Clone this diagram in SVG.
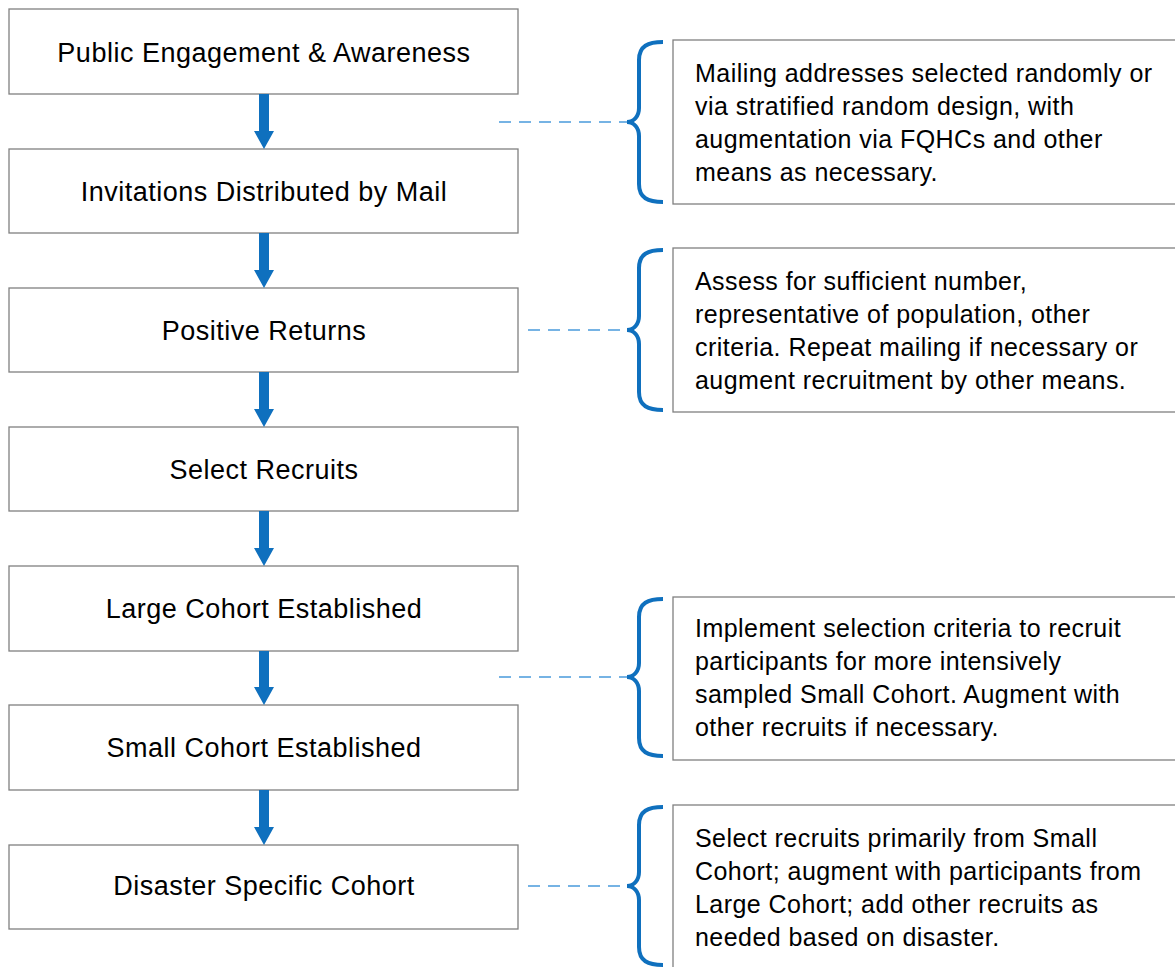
<svg xmlns="http://www.w3.org/2000/svg" width="1175" height="967" viewBox="0 0 1175 967">
<style>
.box{fill:#fff;stroke:#808080;stroke-width:1.3}
.lt{font-family:"Liberation Sans",Arial,sans-serif;font-size:27px;letter-spacing:0.5px;fill:#000;text-anchor:middle}
.rt{font-family:"Liberation Sans",Arial,sans-serif;font-size:25px;letter-spacing:0.45px;fill:#000}
.dash{stroke:#4A9BDC;stroke-width:1.4;stroke-dasharray:12 8;fill:none}
.brace{stroke:#0F70BE;stroke-width:4;fill:none}
.arr{fill:#0F70BE}
</style>
<rect width="1175" height="967" fill="#fff"/>
<g id="n1"><rect class="box" x="9" y="9" width="509" height="85"/><text class="lt" x="264" y="62">Public Engagement &amp; Awareness</text></g>
<g id="n2"><rect class="box" x="9" y="149" width="509" height="84"/><text class="lt" x="264" y="201">Invitations Distributed by Mail</text></g>
<g id="n3"><rect class="box" x="9" y="288" width="509" height="84"/><text class="lt" x="264" y="340">Positive Returns</text></g>
<g id="n4"><rect class="box" x="9" y="427" width="509" height="84"/><text class="lt" x="264" y="479">Select Recruits</text></g>
<g id="n5"><rect class="box" x="9" y="566" width="509" height="85"/><text class="lt" x="264" y="618">Large Cohort Established</text></g>
<g id="n6"><rect class="box" x="9" y="705" width="509" height="85"/><text class="lt" x="264" y="757">Small Cohort Established</text></g>
<g id="n7"><rect class="box" x="9" y="845" width="509" height="84"/><text class="lt" x="264" y="895">Disaster Specific Cohort</text></g>
<g id="note1"><rect class="box" x="673" y="40" width="503" height="164"/>
<text class="rt" x="695" y="82">Mailing addresses selected randomly or</text>
<text class="rt" x="695" y="115">via stratified random design, with</text>
<text class="rt" x="695" y="148">augmentation via FQHCs and other</text>
<text class="rt" x="695" y="181">means as necessary.</text></g>
<g id="note2"><rect class="box" x="673" y="248" width="503" height="164"/>
<text class="rt" x="695" y="290">Assess for sufficient number,</text>
<text class="rt" x="695" y="323">representative of population, other</text>
<text class="rt" x="695" y="356">criteria. Repeat mailing if necessary or</text>
<text class="rt" x="695" y="389">augment recruitment by other means.</text></g>
<g id="note3"><rect class="box" x="673" y="597" width="503" height="163"/>
<text class="rt" x="695" y="637">Implement selection criteria to recruit</text>
<text class="rt" x="695" y="670">participants for more intensively</text>
<text class="rt" x="695" y="703">sampled Small Cohort. Augment with</text>
<text class="rt" x="695" y="736">other recruits if necessary.</text></g>
<g id="note4"><rect class="box" x="673" y="805" width="503" height="170"/>
<text class="rt" x="695" y="847">Select recruits primarily from Small</text>
<text class="rt" x="695" y="880">Cohort; augment with participants from</text>
<text class="rt" x="695" y="913">Large Cohort; add other recruits as</text>
<text class="rt" x="695" y="946">needed based on disaster.</text></g>
<g id="connectors">
<path class="arr" d="M259,94 H269 V131 H274 L264,149 L254,131 H259 Z"/>
<path class="arr" d="M259,233 H269 V270 H274 L264,288 L254,270 H259 Z"/>
<path class="arr" d="M259,372 H269 V409 H274 L264,427 L254,409 H259 Z"/>
<path class="arr" d="M259,511 H269 V548 H274 L264,566 L254,548 H259 Z"/>
<path class="arr" d="M259,651 H269 V687 H274 L264,705 L254,687 H259 Z"/>
<path class="arr" d="M259,790 H269 V827 H274 L264,845 L254,827 H259 Z"/>
<line class="dash" x1="499" y1="122" x2="627" y2="122"/>
<line class="dash" x1="528" y1="330" x2="627" y2="330"/>
<line class="dash" x1="499" y1="677" x2="627" y2="677"/>
<line class="dash" x1="528" y1="886" x2="627" y2="886"/>
<path class="brace" d="M663,42 C648,42 639,46 639,60 L639,108 C639,116 634,122 627,122 C634,122 639,128 639,136 L639,184 C639,198 648,202 663,202"/>
<path class="brace" d="M663,250 C648,250 639,254 639,268 L639,316 C639,324 634,330 627,330 C634,330 639,336 639,344 L639,392 C639,406 648,410 663,410"/>
<path class="brace" d="M663,599 C648,599 639,603 639,617 L639,663 C639,671 634,677 627,677 C634,677 639,683 639,691 L639,738 C639,752 648,756 663,756"/>
<path class="brace" d="M663,807 C648,807 639,811 639,825 L639,872 C639,880 634,886 627,886 C634,886 639,892 639,900 L639,947 C639,961 648,965 663,965"/>
</g>
</svg>
